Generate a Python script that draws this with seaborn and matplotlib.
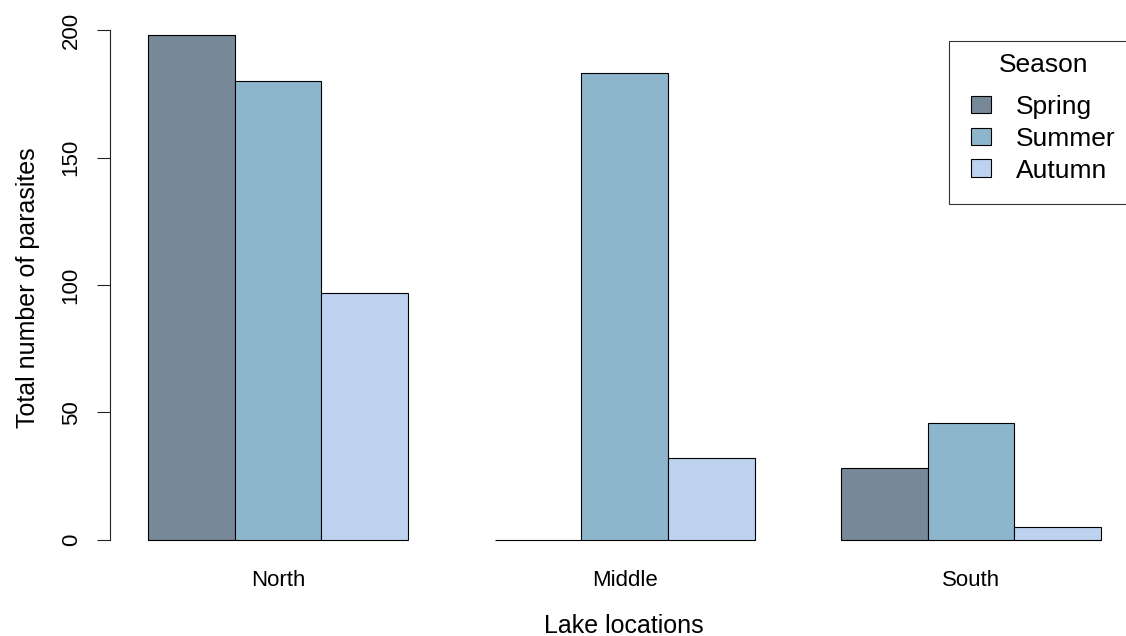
import matplotlib
matplotlib.use('Agg')
import matplotlib.pyplot as plt
import pandas as pd
import seaborn as sns

# parasite counts per lake location and season
locations = ['North', 'Middle', 'South']
seasons = ['Spring', 'Summer', 'Autumn']
spring = [198, 0, 28]
summer = [180, 183, 46]
autumn = [97, 32, 5]
season_colors = ['#778899', '#8DB6CD', '#BCD2EE']
y_ticks = [0, 50, 100, 150, 200]

df = pd.DataFrame({
    'location': locations * 3,
    'season': [s for s in seasons for _ in locations],
    'count': spring + summer + autumn,
})

sns.set_theme(style='white')
plt.rcParams['font.family'] = ['Liberation Sans', 'DejaVu Sans']
plt.rcParams['text.color'] = 'black'
plt.rcParams['axes.labelcolor'] = 'black'
plt.rcParams['xtick.color'] = 'black'
plt.rcParams['ytick.color'] = 'black'

W, H = 1126, 636
fig = plt.figure(figsize=(W / 100, H / 100), dpi=100)
ax = fig.add_axes([110 / W, 76 / H, 1016 / W, 545 / H])

sns.barplot(data=df, x='location', y='count', hue='season',
            order=locations, hue_order=seasons, palette=season_colors,
            width=0.75, saturation=1, edgecolor='black', linewidth=0.8,
            errorbar=None, ax=ax)

ax.set_xlim(-0.485, 2.447)
ax.set_ylim(-7.92, 205.92)

for s in ['top', 'right', 'bottom']:
    ax.spines[s].set_visible(False)
ax.spines['left'].set_bounds(0, 200)
ax.spines['left'].set_color('#222222')
ax.spines['left'].set_linewidth(0.8)

ax.set_yticks(y_ticks)
ax.set_yticklabels([str(t) for t in y_ticks], rotation=90, va='center')
ax.tick_params(axis='y', left=True, length=9.4, width=0.8, color='#222222',
               direction='out', labelsize=16, pad=11)
ax.tick_params(axis='x', bottom=False, length=0, labelsize=16, pad=7)

ax.set_xlabel('Lake locations', fontsize=18, va='center')
ax.xaxis.set_label_coords(0.506, -0.121)
ax.set_ylabel('Total number of parasites', fontsize=18, va='center')
ax.yaxis.set_label_coords(-0.0807, 0.5)

handles, labels = ax.get_legend_handles_labels()
leg = ax.legend(handles, labels, title='Season', loc='upper left',
                bbox_to_anchor=(0.8258, 0.952), borderaxespad=0,
                fontsize=19, title_fontsize=19, frameon=True, fancybox=False,
                edgecolor='black', handlelength=0.78, handleheight=0.65,
                handletextpad=0.95, labelspacing=0.30, borderpad=0.45)
leg.get_frame().set_linewidth(0.8)
# extra room around the entries, like R's legend box
leg._legend_handle_box.pad = 7

fig.savefig('out.png', dpi=100)
